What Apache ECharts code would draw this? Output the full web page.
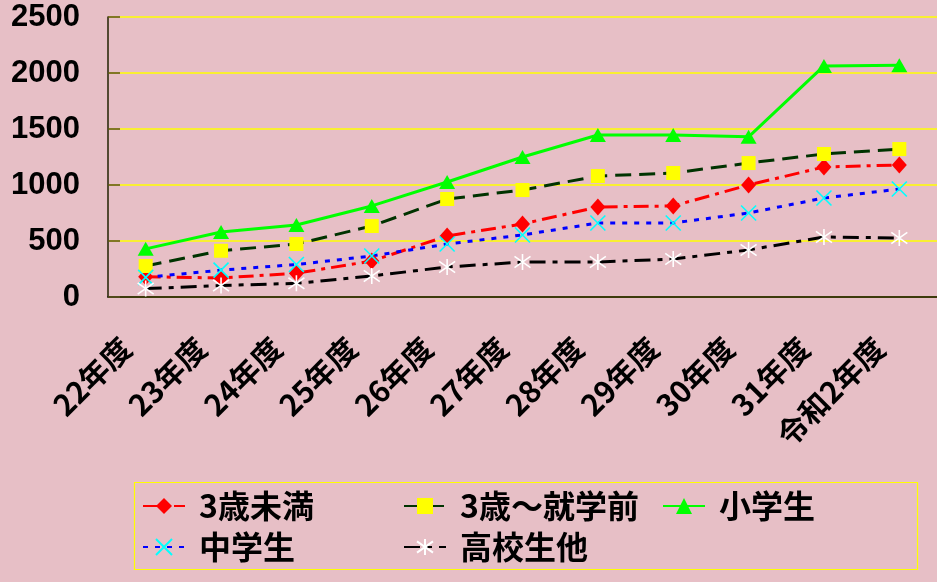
<!DOCTYPE html>
<html>
<head>
<meta charset="utf-8">
<script src="https://cdn.jsdelivr.net/npm/echarts@6/dist/echarts.min.js"></script>
<style>
html,body{margin:0;padding:0;background:#e7bfc6;}
#chart{width:937px;height:582px;}
</style>
</head>
<body>
<div id="chart"></div>
<script>
// ---- data ----
var categories = ['22年度','23年度','24年度','25年度','26年度','27年度','28年度','29年度','30年度','31年度','令和2年度'];
var seriesNames = ['3歳未満','3歳～就学前','小学生','中学生','高校生他'];
var under3     = [181, 170, 212, 321, 545, 652, 804, 813, 1000, 1161, 1179];
var preschool  = [277, 413, 473, 634, 875, 955, 1080, 1107, 1196, 1277, 1321];
var elementary = [430, 580, 643, 813, 1027, 1250, 1446, 1446, 1430, 2063, 2070];
var juniorHigh = [175, 240, 290, 366, 473, 554, 661, 661, 750, 884, 964];
var highSchool = [75, 103, 122, 188, 268, 312, 312, 339, 420, 536, 527];
var yTicks = {min: 0, max: 2500, interval: 500};

var xPath = 'path://M0,0L10,10M10,0L0,10';
var starPath = 'path://M1.5,1.5L8.5,8.5M8.5,1.5L1.5,8.5M5,0L5,10';

var chart = echarts.init(document.getElementById('chart'), null, {renderer: 'canvas'});

function legendAt(name, left, top) {
  return {
    data: [name], left: left, top: top, padding: 0,
    itemWidth: 42, itemHeight: 20, selectedMode: false,
    textStyle: {fontFamily: 'Noto Sans CJK JP', fontWeight: 'bold', fontSize: 32,
                color: '#000', lineHeight: 34, padding: [0, 0, 0, 9]}
  };
}

var option = {
  animation: false,
  backgroundColor: '#e7bfc6',
  grid: {left: 108, top: 17, width: 832, bottom: 285, containLabel: false},
  xAxis: {
    type: 'category', data: categories, boundaryGap: true,
    axisLine: {lineStyle: {color: '#000', width: 1.5}},
    axisTick: {inside: true, length: 11, lineStyle: {color: '#000', width: 1}},
    axisLabel: {rotate: 45, margin: 26, padding: [0, 28, 0, 0], interval: 0,
                fontFamily: 'Noto Sans CJK JP', fontWeight: 'bold', fontSize: 30, color: '#000'},
    splitLine: {show: false}
  },
  yAxis: {
    type: 'value', min: yTicks.min, max: yTicks.max, interval: yTicks.interval,
    axisLine: {show: true, lineStyle: {color: '#222200', width: 1.5}},
    axisTick: {show: true, inside: true, length: 12, lineStyle: {color: '#5a5020', width: 1.5}},
    axisLabel: {margin: 28, fontFamily: 'Liberation Sans', fontWeight: 'bold', fontSize: 31, color: '#000',
                padding: [7, 0, 0, 0],
                formatter: function (v) { return String(v); }},
    splitLine: {show: true, lineStyle: {color: '#ffff00', width: 1.5}}
  },
  legend: [
    legendAt(seriesNames[0], 142, 489),
    legendAt(seriesNames[1], 403, 489),
    legendAt(seriesNames[2], 662, 489),
    legendAt(seriesNames[3], 142, 530),
    legendAt(seriesNames[4], 403, 530)
  ],
  graphic: [{
    type: 'rect', left: 132, top: 480,
    shape: {width: 783, height: 87},
    style: {fill: 'none', stroke: '#ffff00', lineWidth: 1.2}
  }],
  series: [
    {
      name: seriesNames[0], type: 'line', data: under3,
      symbol: 'diamond', symbolSize: [15, 17],
      lineStyle: {color: '#ff0000', width: 3, type: [15, 6, 4, 6]},
      itemStyle: {color: '#ff0000'}
    },
    {
      name: seriesNames[1], type: 'line', data: preschool,
      symbol: 'rect', symbolSize: 14,
      lineStyle: {color: '#003300', width: 3, type: [16, 8]},
      itemStyle: {color: '#ffff00'}
    },
    {
      name: seriesNames[2], type: 'line', data: elementary,
      symbol: 'triangle', symbolSize: [16, 14],
      lineStyle: {color: '#00ff00', width: 3, type: 'solid'},
      itemStyle: {color: '#00ff00'}
    },
    {
      name: seriesNames[3], type: 'line', data: juniorHigh,
      symbol: xPath, symbolSize: 15,
      lineStyle: {color: '#0000ff', width: 3, type: [5, 7]},
      itemStyle: {color: '#00ffff', borderColor: '#00ffff', borderWidth: 1.6}
    },
    {
      name: seriesNames[4], type: 'line', data: highSchool,
      symbol: starPath, symbolSize: 16,
      lineStyle: {color: '#000000', width: 3, type: [16, 7, 5, 7]},
      itemStyle: {color: '#ffffff', borderColor: '#ffffff', borderWidth: 1.6}
    }
  ]
};
chart.setOption(option);
</script>
</body>
</html>
